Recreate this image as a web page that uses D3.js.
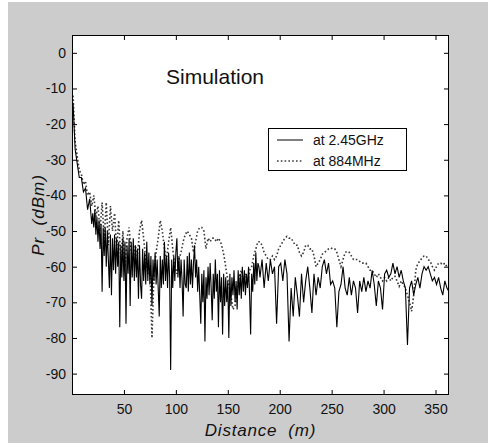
<!DOCTYPE html>
<html>
<head>
<meta charset="utf-8">
<script src="https://cdn.jsdelivr.net/npm/d3@7"></script>
<style>
  body { margin: 0; background: #fff; }
  svg { display: block; font-family: Arial, "Liberation Sans", sans-serif; }
</style>
</head>
<body>
<svg></svg>
<script>
// 2.45 GHz samples: distance (m) and received power (dBm)
const dist245 = [
  1,3,5,7,9,11,13,15,17,19,
  20,21,22,23,24,25,26,27,28,29,30,31,32,33,34,35,36,37,38,39,
  40,41,42,43,44,45,46,47,48,49,50,51,52,53,54,55,56,57,58,59,
  60,61,62,63,64,65,66,67,68,69,70,71,72,73,74,75,76,77,78,79,
  80,81,82,83,84,85,86,87,88,89,90,91,92,93,94,95,96,97,98,99,
  100,101,102,103,104,105,106,107,108,109,110,111,112,113,114,115,116,117,118,119,
  120,121,122,123,124,125,126,127,128,129,130,131,132,133,134,135,136,137,138,139,
  140,141,142,143,144,145,146,147,148,149,150,151,152,153,154,155,156,157,158,159,
  160,161,162,163,164,165,166,167,168,169,170,171,172,173,174,175,176,177,178,179,180,
  181,183,185,187,189,191,193,195,197,199,201,203,205,207,209,211,213,215,217,219,
  221,223,225,227,229,231,233,235,237,239,241,243,245,247,249,251,253,255,257,259,
  261,263,265,267,269,271,273,275,277,279,281,283,285,287,289,291,293,295,297,299,
  301,303,305,307,309,311,313,315,317,319,321,323,325,327,329,331,333,335,337,339,
  341,343,345,347,349,351,353,355,357,359,361,363
];
const pr245 = [
  -14,-27,-31,-35,-35,-39,-38,-44,-41,-48,
  -45,-49,-44,-51,-46,-53,-47,-55,-48,-67,-49,-57,-49,-60,-50,-58,-66,-51,-68,-52,
  -61,-51,-62,-52,-60,-53,-77,-54,-63,-52,-64,-53,-76,-54,-62,-52,-71,-53,-63,-52,
  -64,-54,-63,-55,-69,-54,-65,-69,-55,-64,-56,-65,-53,-64,-56,-65,-57,-71,-58,-64,
  -56,-65,-58,-66,-74,-57,-66,-58,-65,-53,-64,-57,-66,-56,-63,-89,-58,-66,-57,-64,
  -56,-52,-63,-57,-66,-58,-64,-74,-58,-65,-66,-57,-67,-56,-65,-58,-66,-59,-54,-63,
  -58,-67,-60,-68,-76,-62,-70,-61,-81,-63,-69,-60,-68,-59,-66,-75,-62,-69,-58,-67,
  -62,-77,-61,-70,-63,-79,-62,-71,-63,-70,-64,-80,-62,-71,-63,-68,-61,-70,-64,-72,
  -61,-68,-62,-69,-60,-67,-61,-68,-62,-66,-60,-68,-79,-62,-67,-59,-65,-56,-64,-59,-60,
  -63,-58,-66,-59,-64,-58,-62,-60,-76,-60,-59,-64,-58,-62,-81,-66,-74,-63,-68,-74,
  -62,-70,-64,-60,-66,-73,-62,-68,-63,-66,-60,-58,-62,-59,-65,-64,-66,-77,-67,-65,
  -60,-66,-68,-63,-68,-64,-66,-73,-64,-67,-63,-67,-64,-66,-61,-65,-71,-64,-66,-72,
  -62,-61,-63,-62,-59,-62,-60,-63,-61,-64,-66,-82,-66,-64,-68,-65,-63,-66,-62,-60,
  -61,-60,-62,-64,-63,-65,-63,-66,-68,-64,-66,-67
];

// 884 MHz samples: distance (m) and received power (dBm)
const dist884 = [
  1,3,5,7,9,11,13,15,17,19,21,23,25,27,29,31,33,35,37,39,
  41,43,45,47,49,51,53,55,57,59,61,63,65,67,69,71,73,75,77,79,
  81,83,85,87,89,91,93,95,97,99,101,103,105,107,109,111,113,115,117,119,
  121,123,125,127,129,131,133,135,137,139,141,143,145,147,149,151,153,155,157,159,
  161,163,165,167,169,171,173,175,177,179,181,183,185,187,189,191,193,195,197,199,
  201,203,205,207,209,211,213,215,217,219,221,223,225,227,229,231,233,235,237,239,
  241,243,245,247,249,251,253,255,257,259,261,263,265,267,269,271,273,275,277,279,
  281,283,285,287,289,291,293,295,297,299,301,303,305,307,309,311,313,315,317,319,
  321,323,325,327,329,331,333,335,337,339,341,343,345,347,349,351,353,355,357,359,
  361,363
];
const pr884 = [
  -12,-25,-29,-33,-34,-37,-36,-40,-39,-43,
  -40,-46,-43,-50,-42,-52,-42,-54,-43,-50,
  -45,-55,-47,-58,-50,-60,-52,-49,-56,-58,
  -54,-57,-50,-47,-52,-58,-62,-60,-80,-61,
  -56,-52,-47,-50,-55,-58,-53,-49,-55,-60,
  -62,-58,-56,-53,-51,-50,-51,-52,-56,-53,
  -50,-49,-49,-50,-55,-52,-53,-52,-52,-53,
  -52,-53,-55,-58,-62,-65,-68,-72,-71,-66,
  -63,-61,-64,-62,-65,-61,-60,-57,-55,-53,
  -53,-54,-56,-57,-58,-58,-57,-58,-57,-55,
  -54,-53,-52,-51.5,-52,-52,-53,-54,-54,-56,
  -57,-56,-54,-54,-55,-55,-57,-60,-59,-58,
  -56.5,-56,-55.5,-55,-54.7,-55,-55,-56,-58,-60,
  -58,-56,-55.7,-56,-57,-58,-58,-58,-58.5,-59,
  -59,-59,-60,-61,-61,-62,-63,-62,-63,-64,
  -63,-64,-63,-64,-63,-62.7,-64,-65.5,-64,-65,
  -66,-68,-70,-72.5,-68,-61,-59,-58.5,-57.5,-57,
  -57,-58,-58.5,-60,-61,-60,-59,-59,-59.5,-59,
  -60,-60
];

const xTicks = [50, 100, 150, 200, 250, 300, 350];
const yTicks = [0, -10, -20, -30, -40, -50, -60, -70, -80, -90];
const seriesNames = ["at 2.45GHz", "at 884MHz"];

const svgWidth = 488, svgHeight = 443;
const svg = d3.select("svg").attr("width", svgWidth).attr("height", svgHeight);

// grey figure background
svg.append("rect")
    .attr("x", 8).attr("y", 2)
    .attr("width", svgWidth - 8).attr("height", svgHeight - 2)
    .attr("fill", "#cccccc");

const plot = {left: 72, right: 449, top: 35, bottom: 395};

const x = d3.scaleLinear().domain([0, 363]).range([plot.left, plot.right]);
const y = d3.scaleLinear().domain([-96, 5]).range([plot.bottom, plot.top]);

svg.append("rect")
    .attr("x", plot.left).attr("y", plot.top)
    .attr("width", plot.right - plot.left).attr("height", plot.bottom - plot.top)
    .attr("fill", "#fff");

svg.append("clipPath").attr("id", "plotclip")
  .append("rect")
    .attr("x", plot.left).attr("y", plot.top)
    .attr("width", plot.right - plot.left).attr("height", plot.bottom - plot.top);

const lineFor = dist => d3.line()
    .x((d, i) => x(dist[i]))
    .y(d => y(d));

const lines = svg.append("g").attr("clip-path", "url(#plotclip)");

lines.append("path")
    .datum(pr884)
    .attr("fill", "none")
    .attr("stroke", "#3a3a3a")
    .attr("stroke-width", 1.6)
    .attr("stroke-dasharray", "1.6,2.2")
    .attr("d", lineFor(dist884));

lines.append("path")
    .datum(pr245)
    .attr("fill", "none")
    .attr("stroke", "#000")
    .attr("stroke-width", 1.1)
    .attr("d", lineFor(dist245));

// axes, ticks pointing inward like matlab
function styleAxis(g) {
    g.select(".domain").remove();
    g.selectAll("line").attr("stroke", "#000");
    g.selectAll("text").attr("fill", "#111").style("font-size", "14px");
}

svg.append("g")
    .attr("transform", "translate(0," + plot.bottom + ")")
    .call(d3.axisBottom(x).tickValues(xTicks).tickSize(-5).tickPadding(9).tickFormat(d => d + ""))
    .call(styleAxis);

svg.append("g")
    .attr("transform", "translate(0," + plot.top + ")")
    .call(d3.axisTop(x).tickValues(xTicks).tickSize(-5).tickFormat(""))
    .call(styleAxis);

svg.append("g")
    .attr("transform", "translate(" + plot.left + ",0)")
    .call(d3.axisLeft(y).tickValues(yTicks).tickSize(-5).tickPadding(6).tickFormat(d => d + ""))
    .call(styleAxis);

svg.append("g")
    .attr("transform", "translate(" + plot.right + ",0)")
    .call(d3.axisRight(y).tickValues(yTicks).tickSize(-5).tickFormat(""))
    .call(styleAxis);

svg.append("rect")
    .attr("x", plot.left + 0.5).attr("y", plot.top + 0.5)
    .attr("width", plot.right - plot.left - 1).attr("height", plot.bottom - plot.top - 1)
    .attr("fill", "none")
    .attr("stroke", "#000");

// title and axis labels
svg.append("text")
    .attr("x", 166).attr("y", 84)
    .style("font-size", "21px")
    .attr("fill", "#111")
    .text("Simulation");

svg.append("text")
    .attr("x", (plot.left + plot.right) / 2).attr("y", 436)
    .attr("text-anchor", "middle")
    .style("font-size", "17px").style("font-style", "italic")
    .style("letter-spacing", "0.8px")
    .attr("fill", "#111")
    .attr("xml:space", "preserve")
    .text("Distance  (m)");

svg.append("text")
    .attr("transform", "translate(44," + (plot.top + plot.bottom) / 2 + ") rotate(-90)")
    .attr("text-anchor", "middle")
    .style("font-size", "17px").style("font-style", "italic")
    .style("letter-spacing", "1px")
    .attr("fill", "#111")
    .attr("xml:space", "preserve")
    .text("Pr  (dBm)");

// legend
const legend = svg.append("g");
legend.append("rect")
    .attr("x", 268.5).attr("y", 128.5)
    .attr("width", 138).attr("height", 42)
    .attr("fill", "#fff").attr("stroke", "#000");

seriesNames.forEach((name, i) => {
    const ly = 140 + i * 21;
    legend.append("line")
        .attr("x1", 277).attr("x2", 303)
        .attr("y1", ly).attr("y2", ly)
        .attr("stroke", i === 0 ? "#000" : "#3a3a3a")
        .attr("stroke-width", i === 0 ? 1 : 1.6)
        .attr("stroke-dasharray", i === 0 ? null : "1.6,2.2");
    legend.append("text")
        .attr("x", 313).attr("y", ly + 5)
        .style("font-size", "14px")
        .attr("fill", "#111")
        .text(name);
});
</script>
</body>
</html>
